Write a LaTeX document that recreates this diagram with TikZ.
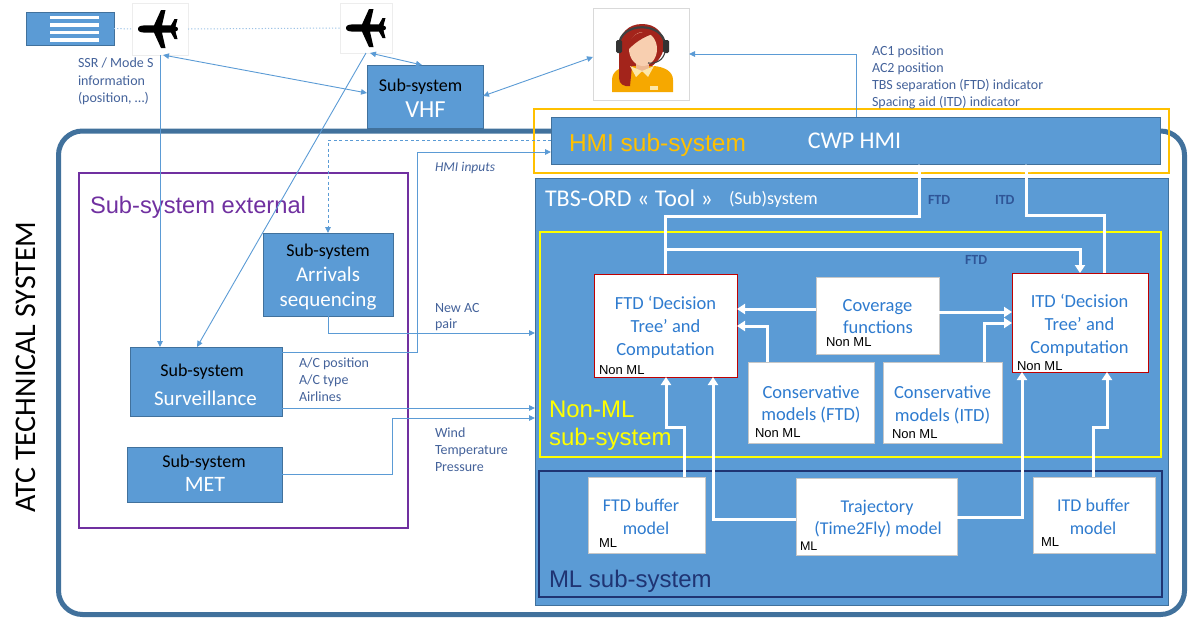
\documentclass[tikz,border=0pt]{standalone}
\usepackage{fontspec}
\setmainfont{Carlito}
\newfontfamily\arialfam{Liberation Sans}
\usetikzlibrary{arrows.meta}

\definecolor{boxblue}{HTML}{5B9BD5}
\definecolor{boxedge}{HTML}{41719C}
\definecolor{frameblue}{HTML}{41719C}
\definecolor{thinblue}{HTML}{5B9BD5}
\definecolor{dotblue}{HTML}{9DC3E6}
\definecolor{labelblue}{HTML}{44629A}
\definecolor{hmiorange}{HTML}{FFC000}
\definecolor{extpurple}{HTML}{7030A0}
\definecolor{nmyellow}{HTML}{FFFF00}
\definecolor{mlnavy}{HTML}{1F3473}
\definecolor{decred}{HTML}{C00000}
\definecolor{modeltext}{HTML}{2E7BCF}
\definecolor{tagblue}{HTML}{2F5597}
\definecolor{hairred}{HTML}{A3241B}
\definecolor{skin}{HTML}{F8CFB0}
\definecolor{neckskin}{HTML}{EDB994}
\definecolor{shirt}{HTML}{F6A800}
\definecolor{collar}{HTML}{FDE7A8}

\newcommand\csz[1]{\fontsize{#1}{#1}\selectfont}
\newcommand\asz[1]{\arialfam\fontsize{#1}{#1}\selectfont}

% top-down airplane silhouette, nose to the left
\newcommand\planeicon[1]{%
  \fill[black, shift={#1}]
    (-20,0) .. controls (-20,-2.8) and (-17,-3.6) .. (-13,-3.6)
    -- (-4,-3.6) -- (3,-19) -- (7.5,-19) -- (4,-3.6) -- (13,-3.6)
    -- (16.5,-10) -- (19.5,-10) -- (17.5,-2.5)
    .. controls (19.5,-2) and (20,-1) .. (20,0)
    .. controls (20,1) and (19.5,2) .. (17.5,2.5)
    -- (19.5,10) -- (16.5,10) -- (13,3.6) -- (4,3.6) -- (7.5,19)
    -- (3,19) -- (-4,3.6) -- (-13,3.6)
    .. controls (-17,3.6) and (-20,2.8) .. (-20,0) -- cycle;}

\tikzset{
  plain/.style={inner sep=0pt, outer sep=0pt},
  sysbox/.style={plain, draw=boxedge, fill=boxblue, line width=0.8pt},
  wbox/.style={plain, draw=black!22, fill=white, line width=0.8pt},
  decbox/.style={plain, draw=decred, fill=white, line width=1pt},
  feed/.style={draw=thinblue, line width=0.9pt, -{Triangle[length=6pt,width=5.5pt]}},
  feedboth/.style={feed, {Triangle[length=6pt,width=5.5pt]}-{Triangle[length=6pt,width=5.5pt]}},
  flow/.style={draw=white, line width=3pt, -{Triangle[length=8pt,width=10pt]}},
  lbl/.style={plain, text=labelblue, font=\csz{14}, anchor=base west},
  sub/.style={plain, text=black, font=\csz{18}, anchor=base},
  wt/.style={plain, text=white, anchor=base},
  mt/.style={plain, text=modeltext, font=\csz{18.5}, anchor=base},
  tag/.style={plain, text=black, font=\asz{13}, anchor=base west},
  key/.style={plain, text=tagblue, font={\bfseries\csz{14}}, anchor=base west}
}

\begin{document}
\begin{tikzpicture}[x=1pt,y=-1pt]
\useasboundingbox (0,0) rectangle (1188,619);

% ---------- outer ATC frame ----------
\node[plain, draw=frameblue, line width=5pt, rounded corners=24pt,
      minimum width=1126pt, minimum height=483.5pt] (atc) at (621.5,372.75) {};
\node[plain, rotate=90, font=\csz{30}] (atctitle) at (26,367) {ATC TECHNICAL SYSTEM};

% ---------- radar and aircraft ----------
\node[sysbox, minimum width=88pt, minimum height=33pt] (radar) at (70,28.5) {};
\foreach \yy [count=\i] in {17,24.5,32,39.5}
  \node[plain, draw=boxblue, fill=white, line width=0.5pt,
        minimum width=50pt, minimum height=4.5pt] (bar\i) at (74,\yy) {};
\node[plain, draw=black!7, fill=white, minimum width=56pt, minimum height=52pt] (pl1f) at (160,29) {};
\node[plain, draw=black!7, fill=white, minimum width=52pt, minimum height=50pt] (pl2f) at (366,28) {};
\draw[dotblue, line width=1pt, dash pattern=on 1.2pt off 2pt] (radar.east) -- (pl1f.west);
\draw[dotblue, line width=1pt, dash pattern=on 1.2pt off 2pt] (pl1f.east) -- (pl2f.west);
\planeicon{(158,29)}
\planeicon{(366,28)}

\node[lbl] (ssr1) at (78,67) {SSR / Mode S};
\node[lbl] (ssr2) at (78,85) {information};
\node[lbl] (ssr3) at (78,102) {(position, …)};

% ---------- controller ----------
\node[plain, draw=black!15, fill=white, line width=0.8pt, minimum width=96pt, minimum height=92pt] (op) at (641,54) {};
\fill[shirt] (612,92) -- (612,80) .. controls (612,71) and (620,67) .. (630,66) -- (654,66)
   .. controls (664,67) and (673,71) .. (673,80) -- (673,92) -- cycle;
\fill[hairred] (642,24) .. controls (628,24) and (619,34) .. (619,47) -- (619,78)
   .. controls (619,84) and (624,87) .. (630,86) -- (632,66) -- (652,66)
   .. controls (660,60) and (664,52) .. (664,45) .. controls (664,32) and (655,24) .. (642,24) -- cycle;
\fill[neckskin] (636,58) rectangle (649,72);
\fill[collar] (630,66) -- (642,71) -- (636,77) -- cycle;
\fill[collar] (654,66) -- (642,71) -- (648,77) -- cycle;
\fill[skin] (643,49) ellipse[x radius=14, y radius=17];
\fill[hairred] (628,47) .. controls (630,35) and (640,29) .. (656,33)
   .. controls (648,35) and (637,40) .. (628,50) -- cycle;
\draw[black!75, line width=2.2pt] (619,46) .. controls (619,21) and (665,21) .. (665,46);
\fill[black!80, rounded corners=1.5pt] (616,40) rectangle (622,53);
\fill[black!80, rounded corners=1.5pt] (663,40) rectangle (669,53);
\draw[black!75, line width=1.1pt] (665,51) .. controls (664,60) and (656,64) .. (648,63);
\fill[collar] (650,86) rectangle (658,90);

% ---------- VHF ----------
\node[sysbox, minimum width=116pt, minimum height=63pt] (vhf) at (425,96.5) {};
\node[sub] (vhf1) at (420.5,91) {Sub-system};
\node[wt, font=\csz{24.5}] (vhf2) at (425.5,117) {VHF};

% ---------- HMI ----------
\node[plain, draw=hmiorange, line width=2.2pt, minimum width=635pt, minimum height=64pt] (hmif) at (851.5,141) {};
\node[sysbox, minimum width=609pt, minimum height=47pt] (cwp) at (855.5,140.5) {};
\node[plain, text=hmiorange, font=\asz{24.5}, anchor=base west] (hmit) at (569,151) {HMI sub-system};
\node[wt, font=\csz{24}] (cwpt) at (854.5,148) {CWP HMI};

\node[lbl] (out1) at (872,55) {AC1 position};
\node[lbl] (out2) at (872,72) {AC2 position};
\node[lbl] (out3) at (872,89) {TBS separation (FTD) indicator};
\node[lbl] (out4) at (872,106) {Spacing aid (ITD) indicator};

% ---------- external sub-systems ----------
\node[plain, draw=extpurple, line width=2.4pt, minimum width=329pt, minimum height=355pt] (ext) at (243.5,350.5) {};
\node[plain, text=extpurple, font=\asz{23.7}, anchor=base west] (extt) at (90,213) {Sub-system external};

\node[sysbox, minimum width=130pt, minimum height=83pt] (arr) at (328,274.5) {};
\node[sub] (arr1) at (328,256) {Sub-system};
\node[wt, font=\csz{21}] (arr2) at (328,281) {Arrivals};
\node[wt, font=\csz{21}] (arr3) at (328,306) {sequencing};

\node[sysbox, minimum width=152pt, minimum height=69pt] (surv) at (206,381.5) {};
\node[sub] (surv1) at (202,376) {Sub-system};
\node[wt, font=\csz{21}] (surv2) at (205.5,405) {Surveillance};

\node[sysbox, minimum width=155pt, minimum height=55pt] (met) at (204.5,474.5) {};
\node[sub] (met1) at (204,467) {Sub-system};
\node[wt, font=\csz{22}] (met2) at (205,491) {MET};

\node[lbl] (sl1) at (299,367) {A/C position};
\node[lbl] (sl2) at (299,384) {A/C type};
\node[lbl] (sl3) at (299,401) {Airlines};
\node[lbl, font=\itshape\csz{13.5}] (hin) at (435,171) {HMI inputs};
\node[lbl] (np1) at (435,312) {New AC};
\node[lbl] (np2) at (435,328) {pair};
\node[lbl] (wx1) at (435,437) {Wind};
\node[lbl] (wx2) at (435,454) {Temperature};
\node[lbl] (wx3) at (435,471) {Pressure};

% ---------- TBS-ORD tool ----------
\node[sysbox, minimum width=633pt, minimum height=427pt] (tbs) at (851.5,391.5) {};
\node[wt, font=\csz{24}, anchor=base west] (tbst) at (545,206) {TBS-ORD « Tool »};
\node[wt, font=\csz{18}, anchor=base west] (tbss) at (729,204) {(Sub)system};

\node[plain, draw=nmyellow, line width=2.4pt, minimum width=621pt, minimum height=225pt] (nonml) at (850.5,344.5) {};
\node[plain, text=nmyellow, font=\asz{24}, anchor=base west] (nonml1) at (549,417) {Non-ML};
\node[plain, text=nmyellow, font=\asz{24}, anchor=base west] (nonml2) at (549,445) {sub-system};

\node[plain, draw=mlnavy, line width=2.8pt, minimum width=623pt, minimum height=126pt] (ml) at (850.5,534) {};
\node[plain, text=mlnavy, font=\asz{24}, anchor=base west] (mlt) at (549,587) {ML sub-system};

% decision trees
\node[decbox, minimum width=143pt, minimum height=103pt] (ftd) at (665.5,325.5) {};
\node[mt] (ftd1) at (665.5,309) {FTD ‘Decision};
\node[mt] (ftd2) at (665.5,332) {Tree’ and};
\node[mt] (ftd3) at (665.5,355) {Computation};
\node[tag] (ftd4) at (599,374) {Non ML};

\node[decbox, minimum width=136pt, minimum height=99pt] (itd) at (1080,322.5) {};
\node[mt] (itd1) at (1079.5,307) {ITD ‘Decision};
\node[mt] (itd2) at (1079.5,330) {Tree’ and};
\node[mt] (itd3) at (1079.5,353) {Computation};
\node[tag] (itd4) at (1017,370) {Non ML};

\node[wbox, minimum width=123pt, minimum height=77pt] (cov) at (877.5,315.5) {};
\node[mt] (cov1) at (877.5,311) {Coverage};
\node[mt] (cov2) at (878,333) {functions};
\node[tag] (cov3) at (826,346) {Non ML};

\node[wbox, minimum width=126pt, minimum height=81pt] (cftd) at (811,402.5) {};
\node[mt] (cftd1) at (811,398) {Conservative};
\node[mt] (cftd2) at (811,420) {models (FTD)};
\node[tag] (cftd3) at (755,437) {Non ML};

\node[wbox, minimum width=119pt, minimum height=81pt] (citd) at (942.5,402.5) {};
\node[mt] (citd1) at (942.5,398) {Conservative};
\node[mt] (citd2) at (942.5,421) {models (ITD)};
\node[tag] (citd3) at (892,438) {Non ML};

% ML models
\node[wbox, minimum width=117pt, minimum height=76pt] (fbuf) at (646.5,515) {};
\node[mt, font=\csz{18}] (fbuf1) at (641,511) {FTD buffer};
\node[mt, font=\csz{18}] (fbuf2) at (646,534) {model};
\node[tag] (fbuf3) at (599,547) {ML};

\node[wbox, minimum width=161pt, minimum height=77pt] (traj) at (876.5,516.5) {};
\node[mt, font=\csz{18}] (traj1) at (877,512) {Trajectory};
\node[mt, font=\csz{18}] (traj2) at (878,534) {(Time2Fly) model};
\node[tag, font=\asz{12.5}] (traj3) at (800,550) {ML};

\node[wbox, minimum width=122pt, minimum height=76pt] (ibuf) at (1094,515) {};
\node[mt, font=\csz{18}] (ibuf1) at (1093.5,511) {ITD buffer};
\node[mt, font=\csz{18}] (ibuf2) at (1093,534) {model};
\node[tag] (ibuf3) at (1041,546) {ML};

\node[key] (k1) at (928,204) {FTD};
\node[key] (k2) at (995,204) {ITD};
\node[key] (k3) at (965,264) {FTD};

% ---------- thin data links ----------
\draw[feed] (pl1f.south) -- (surv.north -| 160,0);
\draw[feedboth] ([xshift=3pt]pl1f.south) -- (vhf.west |- 0,93);
\draw[feed] (pl2f.south) -- (surv.north -| 197,0);
\draw[feedboth] ([xshift=4pt]pl2f.south) -- (vhf.north -| 422,0);
\draw[feedboth] (vhf.east |- 0,96) -- (op.west |- 0,57);
\draw[feed] (cwp.north -| 856,0) |- (op.east);
\draw[feed, dashed, dash pattern=on 3pt off 2.5pt] (cwp.west) -| (arr.north);
\draw[feed] (surv.east |- 0,352) -- (417,352) -- (417,152) -- (cwp.west |- 0,152);
\draw[feed] (arr.south) |- (tbs.west |- 0,333);
\draw[feed] (surv.east |- 0,408) -- (tbs.west |- 0,408);
\draw[feed] (met.east |- 0,474) -- (392,474) -- (392,418) -- (tbs.west |- 0,418);

% ---------- internal flows ----------
\draw[flow] (cov.west |- 0,309) -- (ftd.east |- 0,309);
\draw[flow] (cov.east |- 0,312) -- (itd.west |- 0,312);
\draw[flow] (cftd.north -| 767,0) |- (ftd.east |- 0,326);
\draw[flow] (citd.north -| 984,0) |- (itd.west |- 0,323);
\draw[flow] (ftd.north) -- (ftd.north |- 0,216) -- (919,216) -- (cwp.south -| 919,0);
\draw[flow] (ftd.north |- 0,249) -| (itd.north);
\draw[flow] (itd.north -| 1104,0) |- (1026,215) -- (cwp.south -| 1026,0);
\draw[flow] (traj.west |- 0,519) -| (ftd.south -| 713,0);
\draw[flow] (fbuf.north -| 684,0) |- (666,427) -- (ftd.south -| 666,0);
\draw[flow] (traj.east |- 0,517) -| (itd.south -| 1022,0);
\draw[flow] (ibuf.north -| 1093,0) |- (1107,427) -- (itd.south -| 1107,0);
\end{tikzpicture}
\end{document}
